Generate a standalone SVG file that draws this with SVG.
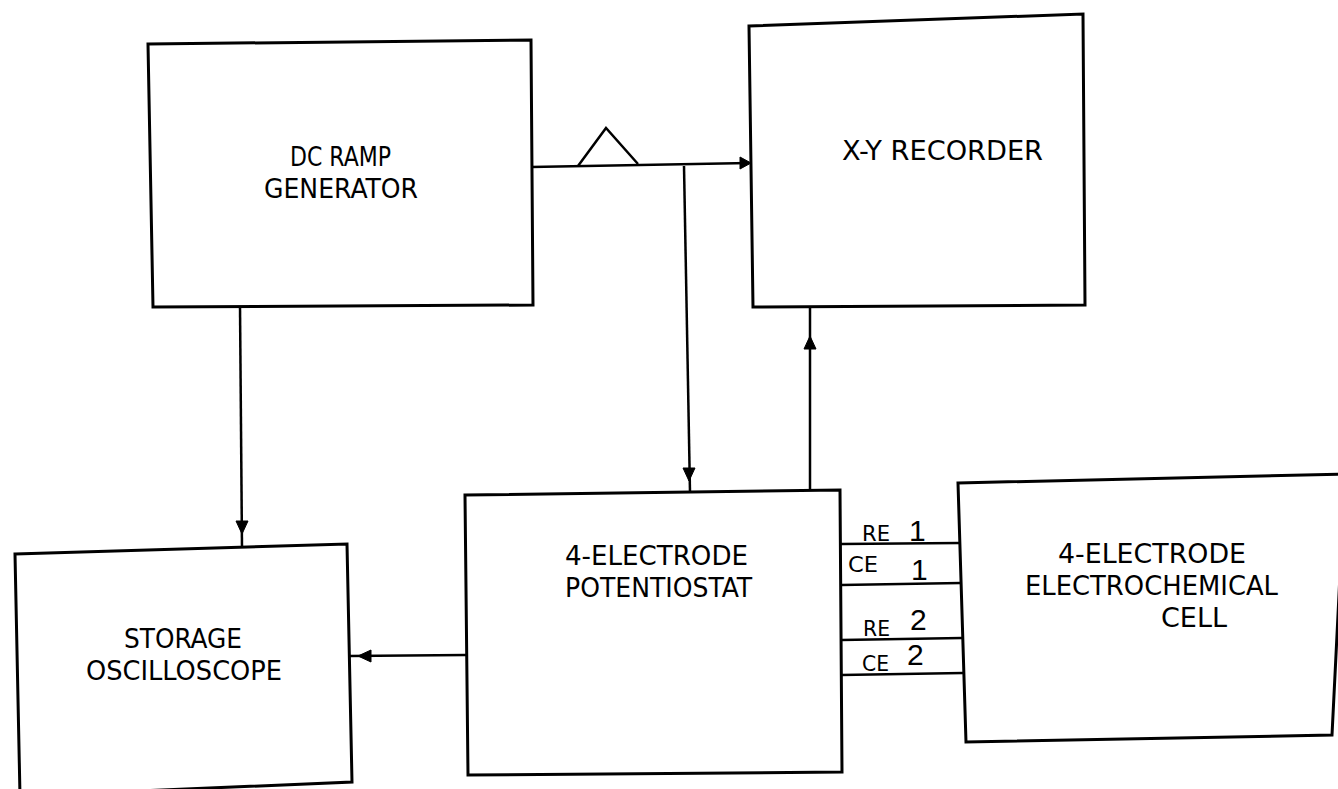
<svg xmlns="http://www.w3.org/2000/svg" width="1338" height="789" viewBox="0 0 1338 789">
<style>
.box{fill:none;stroke:#000;stroke-width:3;stroke-linejoin:miter}
.wire{fill:none;stroke:#000;stroke-width:2.5}
.ah{fill:#000;stroke:#000;stroke-width:1}
.lbl{font-family:"Liberation Sans Narrow","DejaVu Sans Condensed","Liberation Sans",sans-serif;font-size:26px;fill:#000}
.sm{font-family:"Liberation Sans Narrow","DejaVu Sans Condensed","Liberation Sans",sans-serif;font-size:21px;fill:#000}
.num{font-family:"Liberation Sans","DejaVu Sans",sans-serif;font-size:30px;fill:#000}
</style>
<rect width="1338" height="789" fill="#fff"/>
<g id="ramp">
<polygon class="box" points="148,44 531,40 533,305 153,307"/>
<text class="lbl" x="290" y="166" textLength="101" lengthAdjust="spacingAndGlyphs">DC RAMP</text>
<text class="lbl" x="264" y="198" textLength="154" lengthAdjust="spacingAndGlyphs">GENERATOR</text>
</g>
<g id="xy">
<polygon class="box" points="749,26 1083,14 1085,305 753,307"/>
<text class="lbl" x="842" y="160" textLength="201" lengthAdjust="spacingAndGlyphs">X-Y RECORDER</text>
</g>
<g id="pot">
<polygon class="box" points="465,495 840,490 842,772 468,775"/>
<text class="lbl" x="565" y="565" textLength="183" lengthAdjust="spacingAndGlyphs">4-ELECTRODE</text>
<text class="lbl" x="565" y="597" textLength="187" lengthAdjust="spacingAndGlyphs">POTENTIOSTAT</text>
</g>
<g id="osc">
<polygon class="box" points="15,554 347,544 352,782 20,796"/>
<text class="lbl" x="124" y="648" textLength="118" lengthAdjust="spacingAndGlyphs">STORAGE</text>
<text class="lbl" x="86" y="680" textLength="196" lengthAdjust="spacingAndGlyphs">OSCILLOSCOPE</text>
</g>
<g id="cell">
<polygon class="box" points="958,483 1345,474 1332,735 966,742"/>
<text class="lbl" x="1058" y="563" textLength="188" lengthAdjust="spacingAndGlyphs">4-ELECTRODE</text>
<text class="lbl" x="1025" y="595" textLength="253" lengthAdjust="spacingAndGlyphs">ELECTROCHEMICAL</text>
<text class="lbl" x="1161" y="627" textLength="66" lengthAdjust="spacingAndGlyphs">CELL</text>
</g>
<g id="connectors">
<line class="wire" x1="531" y1="167" x2="749" y2="163"/>
<polyline class="wire" points="578,166 606,128 638,164"/>
<polygon class="ah" points="751,163 740,157 740,169"/>
<line class="wire" x1="684" y1="166" x2="690" y2="492"/>
<polygon class="ah" points="689,481 683,468 695,468"/>
<line class="wire" x1="810" y1="491" x2="810" y2="306"/>
<polygon class="ah" points="810,336 804,349 816,349"/>
<line class="wire" x1="240" y1="306" x2="242" y2="548"/>
<polygon class="ah" points="242,534 236,521 248,521"/>
<line class="wire" x1="466" y1="655" x2="349" y2="656"/>
<polygon class="ah" points="358,656 371,650 371,662"/>
<line class="wire" x1="841" y1="544" x2="960" y2="543"/>
<line class="wire" x1="841" y1="585" x2="961" y2="583"/>
<line class="wire" x1="841" y1="640" x2="962" y2="638"/>
<line class="wire" x1="841" y1="675" x2="963" y2="673"/>
</g>
<g id="pins">
<text class="sm" x="862" y="541" textLength="28" lengthAdjust="spacingAndGlyphs">RE</text>
<text class="num" x="909" y="541">1</text>
<text class="sm" x="848" y="572" textLength="30" lengthAdjust="spacingAndGlyphs">CE</text>
<text class="num" x="911" y="580">1</text>
<text class="sm" x="863" y="636" textLength="27" lengthAdjust="spacingAndGlyphs">RE</text>
<text class="num" x="910" y="630">2</text>
<text class="sm" x="862" y="671" textLength="27" lengthAdjust="spacingAndGlyphs">CE</text>
<text class="num" x="907" y="665">2</text>
</g>
</svg>
